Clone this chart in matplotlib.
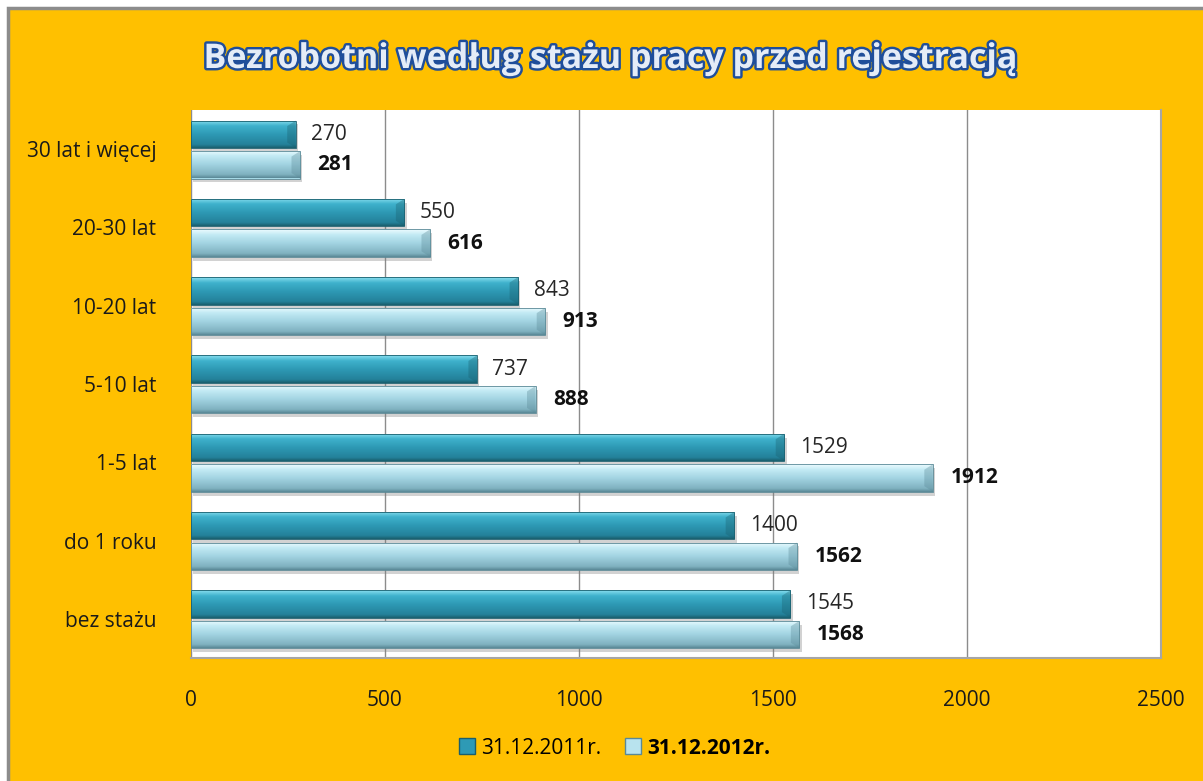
import numpy as np
import matplotlib.pyplot as plt
import matplotlib.patheffects as pe
from matplotlib.colors import LinearSegmentedColormap
from matplotlib.patches import Rectangle, Polygon
from matplotlib.lines import Line2D

categories = ['bez stażu', 'do 1 roku', '1-5 lat', '5-10 lat', '10-20 lat', '20-30 lat', '30 lat i więcej']
v2011 = [1545, 1400, 1529, 737, 843, 550, 270]
v2012 = [1568, 1562, 1912, 888, 913, 616, 281]
series_names = ['31.12.2011r.', '31.12.2012r.']
xticks = [0, 500, 1000, 1500, 2000, 2500]

plt.rcParams['font.family'] = ['Open Sans', 'DejaVu Sans']

fig = plt.figure(figsize=(12.03, 7.81), dpi=100, facecolor='white')
# orange chart area with grey border on the left and top
bg = Rectangle((8 / 1203, -0.05), 1.2, 1 - 8 / 781 + 0.05, transform=fig.transFigure,
               facecolor='#FFC000', edgecolor='#8C8C8C', linewidth=2.5, zorder=-5)
fig.patches.append(bg)

ax = fig.add_axes([191 / 1203, 1 - 658 / 781, 970 / 1203, 548 / 781])
ax.set_facecolor('white')

y = np.arange(len(categories))
h = 0.35
off1, off2 = 0.19, -0.20

# bottom -> top colour ramps (bevelled look)
dark = LinearSegmentedColormap.from_list('dark', [(0, '#1A5F6E'), (0.12, '#24819A'), (0.5, '#2E9AB5'),
                                                  (0.8, '#3FB2CC'), (1, '#8ADFF0')])
light = LinearSegmentedColormap.from_list('light', [(0, '#5A8996'), (0.12, '#7FB1C0'), (0.5, '#A3D4E2'),
                                                    (0.8, '#C2EAF4'), (1, '#EEFCFF')])

b1 = ax.barh(y + off1, v2011, height=h, color='#33A3BD', zorder=3)
b2 = ax.barh(y + off2, v2012, height=h, color='#A6D9E6', zorder=3)

grad = np.linspace(0, 1, 64).reshape(-1, 1)
for bars, cmap, edge in ((b1, dark, '#1A5F6E'), (b2, light, '#5A8996')):
    for r in bars:
        x0, y0 = r.get_x(), r.get_y()
        w, hh = r.get_width(), r.get_height()
        # soft shadow
        ax.add_patch(Rectangle((x0 + 6, y0 - 0.05), w, hh, facecolor='#808080', alpha=0.35,
                               edgecolor='none', zorder=2))
        im = ax.imshow(grad, extent=[x0, x0 + w, y0, y0 + hh], aspect='auto', cmap=cmap,
                       origin='lower', zorder=4, interpolation='bilinear')
        im.set_clip_path(r)
        # darker bevel at the right end
        d = 22
        ax.add_patch(Polygon([(x0 + w - d, y0 + hh * 0.2), (x0 + w, y0), (x0 + w, y0 + hh),
                              (x0 + w - d, y0 + hh * 0.8)], closed=True, facecolor=edge, alpha=0.35,
                             edgecolor='none', zorder=5))
        ax.add_patch(Rectangle((x0, y0), w, hh, facecolor='none', edgecolor=edge,
                               linewidth=0.6, zorder=5))

for yy, v in zip(y + off1, v2011):
    ax.text(v + 40, yy, str(v), va='center', ha='left', fontsize=15, color='#262626', zorder=6)
for yy, v in zip(y + off2, v2012):
    ax.text(v + 45, yy, str(v), va='center', ha='left', fontsize=15, fontweight='bold',
            color='#111111', zorder=6)

ax.set_xlim(0, 2500)
ax.set_ylim(-0.5, len(categories) - 0.5)
ax.set_xticks(xticks)
ax.set_yticks(y)
ax.set_yticklabels(categories)
ax.tick_params(axis='x', length=0, pad=23, labelsize=15, labelcolor='#1A1A1A')
ax.tick_params(axis='y', length=0, pad=25, labelsize=15, labelcolor='#1A1A1A')
ax.grid(axis='x', color='#8C8C8C', linewidth=1, zorder=1)
for s in ('left', 'top'):
    ax.spines[s].set_visible(False)
for s in ('right', 'bottom'):
    ax.spines[s].set_color('#A6A6A6')
    ax.spines[s].set_linewidth(1.5)

fig.text(0.507, 1 - 59 / 781, 'Bezrobotni według stażu pracy przed rejestracją', ha='center', va='center',
         fontsize=24.5, fontweight='bold', color='#E4ECF7',
         path_effects=[pe.withStroke(linewidth=3.5, foreground='#1F4E9A')])

handles = [Line2D([], [], marker='s', linestyle='none', markersize=11, markerfacecolor='#2E9AB5',
                  markeredgecolor='#1A5F6E'),
           Line2D([], [], marker='s', linestyle='none', markersize=11, markerfacecolor='#B8E3EE',
                  markeredgecolor='#5A8996')]
leg = fig.legend(handles, series_names, loc='center', bbox_to_anchor=(0.51, 1 - 748 / 781), ncol=2,
                 frameon=False, fontsize=15, handletextpad=0.2, columnspacing=1.0, handlelength=1)
leg.get_texts()[1].set_fontweight('bold')

fig.savefig('out.png', dpi=100, facecolor=fig.get_facecolor())
